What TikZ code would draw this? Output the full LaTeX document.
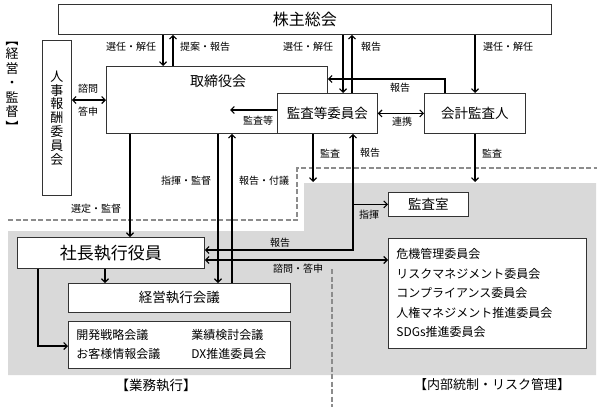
\documentclass[tikz,border=0pt]{standalone}
\usepackage{fontspec}
\setmainfont{Noto Sans CJK JP}
\usetikzlibrary{arrows.meta}

\begin{document}
\begin{tikzpicture}[x=1pt, y=-1pt,
    >={Straight Barb[length=3.5pt,width=7pt]},
    box/.style={draw=black!80, fill=white, line width=0.8pt, inner sep=0pt, anchor=north west},
    lbl/.style={font=\fontsize{10}{10}\selectfont, inner sep=0pt},
    conn/.style={line width=1.1pt},
    sep/.style={draw=black!45, dash pattern=on 5pt off 2.5pt, line width=1.4pt}]
	\useasboundingbox (0,0) rectangle (602,407);
	% shaded area and separators
	\fill[black!15] (8,231) -- (304,231) -- (304,183) -- (596,183) -- (596,375) -- (8,375) -- cycle;
	\draw[sep] (8,220) -- (297,220) -- (297,168) -- (597,168);
	\draw[sep] (332,269) -- (332,407);
	% boxes
	\node[box, minimum width=493pt, minimum height=30pt, font=\fontsize{16}{16}\selectfont] (gm) at (58,4) {株主総会};
	\node[box, minimum width=221pt, minimum height=67pt] (bod) at (106,66) {};
	\node[font=\fontsize{14}{14}\selectfont, inner sep=0pt] (bodname) at (218,81) {取締役会};
	\node[box, minimum width=100pt, minimum height=40pt, font=\fontsize{13.5}{14}\selectfont] (acm) at (277,93) {監査等委員会};
	\node[box, minimum width=101pt, minimum height=40pt, font=\fontsize{13.5}{14}\selectfont] (auditor) at (424,93) {会計監査人};
	\node[box, minimum width=29pt, minimum height=155pt, align=center, font=\fontsize{13}{13.8}\selectfont] (nrc) at (42,40) {人\\事\\報\\酬\\委\\員\\会};
	\node[font=\fontsize{13}{14.5}\selectfont, align=center, inner sep=0pt] (mgmtlbl) at (12,83)
		{\rotatebox[origin=c]{-90}{【}\\経\\営\\・\\監\\督\\\rotatebox[origin=c]{-90}{】}};
	\node[box, minimum width=187pt, minimum height=31pt, font=\fontsize{17}{17}\selectfont] (ceo) at (17,237) {社長執行役員};
	\node[box, minimum width=222pt, minimum height=29pt, font=\fontsize{13.5}{14}\selectfont] (mgm) at (68,283) {経営執行会議};
	\node[box, minimum width=222pt, minimum height=47pt, text width=206pt, align=left, inner xsep=8pt,
		font=\fontsize{12}{19}\selectfont] (mtgs) at (68,321)
		{\begin{tabular}{@{}p{115pt}@{}l@{}}開発戦略会議 & 業績検討会議\\ お客様情報会議 & DX推進委員会\end{tabular}};
	\node[box, minimum width=80pt, minimum height=24pt, font=\fontsize{13.5}{14}\selectfont] (audit) at (388,192) {監査室};
	\node[box, minimum width=198pt, minimum height=110pt, text width=182pt, align=left, inner xsep=8pt,
		font=\fontsize{12}{19.5}\selectfont] (risk) at (388,238)
		{危機管理委員会\\リスクマネジメント委員会\\コンプライアンス委員会\\人権マネジメント推進委員会\\SDGs推進委員会};
	\node[font=\fontsize{13.5}{14}\selectfont] (exec) at (156,385) {【業務執行】};
	\node[font=\fontsize{13}{14}\selectfont] (ctrl) at (492,385) {【内部統制・リスク管理】};
	% free ends
	\coordinate (bodin) at (230,110);
	\coordinate (acmaud) at (313,182);
	\coordinate (extaud) at (475,182);
	% connectors
	\draw[conn, ->] (163,0 |- gm.south) -- (163,0 |- bod.north);
	\draw[conn, ->] (173,0 |- bod.north) -- (173,0 |- gm.south);
	\draw[conn, ->] (343,0 |- gm.south) -- (343,0 |- acm.north);
	\draw[conn, ->] (352,0 |- acm.north) -- (352,0 |- gm.south);
	\draw[conn, ->] (475,0 |- gm.south) -- (475,0 |- auditor.north);
	\draw[conn, ->] (445,0 |- auditor.north) |- (bod.east |- 0,79);
	\draw[conn, <->] (acm.east) -- (auditor.west);
	\draw[conn, ->] (acm.west |- bodin) -- (bodin);
	\draw[conn, <->] (nrc.east |- 0,100) -- (bod.west |- 0,100);
	\draw[conn, ->] (130,0 |- bod.south) -- (130,0 |- ceo.north);
	\draw[conn, ->] (218,0 |- bod.south) -- (218,0 |- mgm.north);
	\draw[conn, ->] (232,0 |- mgm.north) -- (232,0 |- bod.south);
	\draw[conn, ->] (313,0 |- acm.south) -- (acmaud);
	\draw[conn, ->] (475,0 |- auditor.south) -- (extaud);
	\draw[conn, <->] (ceo.east |- 0,250) -| (353,0 |- acm.south);
	\draw[conn, ->] (353,0 |- audit.west) -- (audit.west);
	\draw[conn, <->] (ceo.east |- 0,260) -- (risk.west |- 0,260);
	\draw[conn, ->] (105,0 |- ceo.south) -- (105,0 |- mgm.north);
	\draw[conn, ->] (38,0 |- ceo.south) |- (mtgs.west |- 0,346);
	% labels
	\node[lbl] (l-elect1) at (131,47) {選任・解任};
	\node[lbl] (l-prop) at (205,47) {提案・報告};
	\node[lbl] (l-elect2) at (308,47) {選任・解任};
	\node[lbl] (l-rep1) at (371,47) {報告};
	\node[lbl] (l-elect3) at (508,47) {選任・解任};
	\node[lbl] (l-rep2) at (400,88) {報告};
	\node[lbl] (l-coop) at (402,122) {連携};
	\node[lbl] (l-acm) at (258,121) {監査等};
	\node[lbl] (l-ask) at (88,89) {諮問};
	\node[lbl] (l-ans) at (88,112) {答申};
	\node[lbl] (l-appoint) at (96,209) {選定・監督};
	\node[lbl] (l-direct) at (186,181) {指揮・監督};
	\node[lbl] (l-report) at (264,181) {報告・付議};
	\node[lbl] (l-aud1) at (330,154) {監査};
	\node[lbl] (l-rep3) at (370,153) {報告};
	\node[lbl] (l-aud2) at (492,154) {監査};
	\node[lbl] (l-cmd) at (369,215) {指揮};
	\node[lbl] (l-rep4) at (280,243) {報告};
	\node[lbl] (l-consult) at (298,269) {諮問・答申};
\end{tikzpicture}
\end{document}
